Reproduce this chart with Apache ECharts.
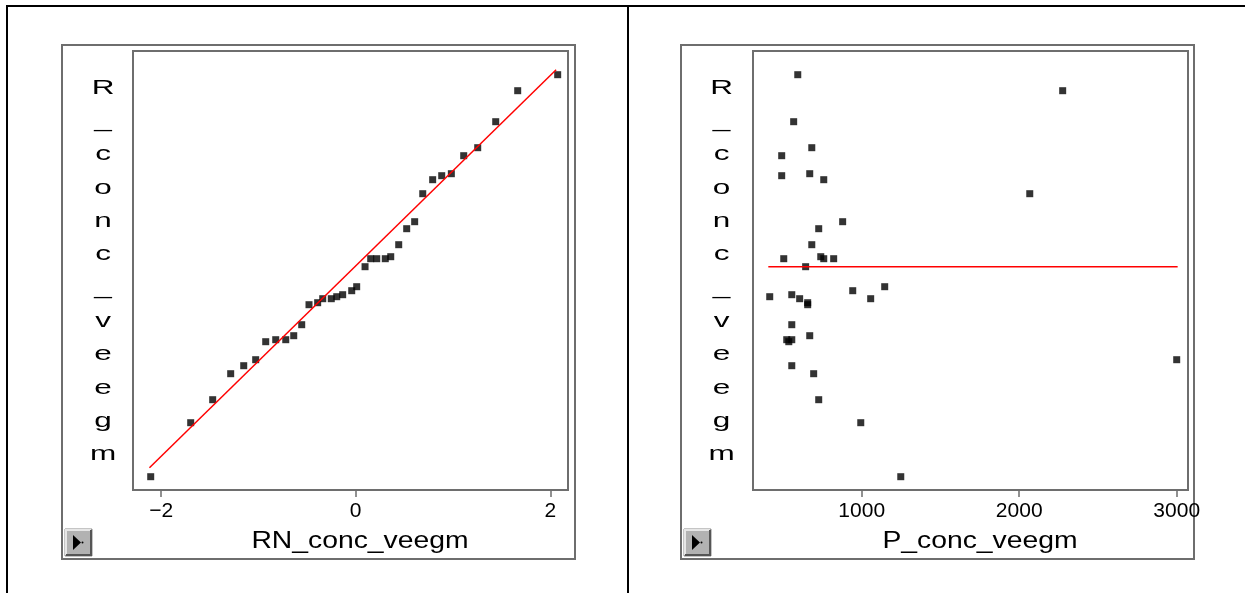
<!DOCTYPE html>
<html>
<head>
<meta charset="utf-8">
<script src="https://cdn.jsdelivr.net/npm/echarts@6/dist/echarts.min.js"></script>
<style>
html,body{margin:0;padding:0;background:#fff;}
#c{width:1245px;height:593px;}
</style>
</head>
<body>
<div id="c"></div>
<script>
// ---- data ----
// normal quantiles (x of left panel), in the same order as rConc
const qqX = [2.076, 1.665, 1.439, 1.254, 1.110, 0.983, 0.884, 0.791, 0.689, 0.606, 0.524, 0.442,
  0.360, 0.304, 0.216, 0.154, 0.096, 0.010, -0.041, -0.134, -0.195, -0.251, -0.339, -0.391,
  -0.480, -0.555, -0.637, -0.719, -0.822, -0.925, -1.028, -1.151, -1.285, -1.470, -1.696, -2.107];
// R_conc_veegm values (sorted, descending)
const rConc = [19.2, 17.6, 14.5, 11.9, 11.1, 9.3, 9.1, 8.7, 7.3, 4.5, 3.8, 2.2,
  1.0, 0.8, 0.8, 0.8, 0.0, -2.0, -2.4, -2.8, -3.0, -3.2, -3.2, -3.6,
  -3.8, -5.8, -6.9, -7.3, -7.3, -7.5, -9.3, -9.9, -10.7, -13.3, -15.6, -21.0];
// P_conc_veegm values, paired with rConc
const pConc = [594, 2276, 568, 683, 492, 670, 492, 759, 2067, 879, 727, 683,
  740, 505, 759, 822, 644, 1146, 943, 556, 416, 606, 1057, 657,
  657, 556, 670, 524, 556, 537, 3000, 556, 695, 727, 994, 1248];
// fitted lines
const qqLineX = [-2.12, 2.06];
const qqLineY = [-20.1, 19.7];
const meanLineX = [407, 3006];
const meanLineY = [0, 0];
// tick labels
const leftTicks = [-2, 0, 2];
const rightTicks = [1000, 2000, 3000];
// texts
const yLabel = 'R_conc_veegm';
const leftXLabel = 'RN_conc_veegm';
const rightXLabel = 'P_conc_veegm';

// ---- chart ----
const chart = echarts.init(document.getElementById('c'), null, {renderer: 'canvas'});
const FONT = '"Liberation Sans", Arial, sans-serif';
const borderCol = '#6e6e6e';

function xAxisCfg(idx, min, max, ticks) {
  return {
    gridIndex: idx, type: 'value', min: min, max: max, position: 'bottom',
    axisLine: {show: false, onZero: false},
    splitLine: {show: false},
    axisTick: {show: true, customValues: ticks, length: 7, lineStyle: {color: borderCol, width: 1.5}},
    axisLabel: {
      customValues: ticks, margin: 11, color: '#000', fontFamily: FONT, fontSize: 21,
      formatter: v => (v < 0 ? '\u2212' + Math.abs(v) : String(v))
    }
  };
}

function button(x, y) {
  return {
    type: 'group', x: x, y: y, children: [
      {type: 'rect', shape: {x: 0, y: 0, width: 27, height: 27}, style: {fill: '#b2b2b2', stroke: '#8a8a8a', lineWidth: 1}},
      {type: 'polyline', shape: {points: [[1, 26], [1, 1], [26, 1]]}, style: {stroke: '#e6e6e6', lineWidth: 2, fill: null}},
      {type: 'polyline', shape: {points: [[1, 26], [26, 26], [26, 1]]}, style: {stroke: '#555', lineWidth: 2, fill: null}},
      {type: 'polygon', shape: {points: [[8, 6], [8, 21], [16, 13.5]]}, style: {fill: '#000'}},
      {type: 'circle', shape: {cx: 17.5, cy: 13.5, r: 1}, style: {fill: '#000'}}
    ]
  };
}

function vLabel(x) {
  return {
    type: 'text', x: x, y: 271.2, scaleX: 1.5,
    style: {
      text: yLabel.split('').join('\n'), font: '21px ' + FONT, lineHeight: 33.3,
      textAlign: 'center', textVerticalAlign: 'middle', fill: '#000'
    }
  };
}

function xName(x, txt) {
  return {
    type: 'text', x: x, y: 541, scaleX: 1.18,
    style: {text: txt, font: '24px ' + FONT, textAlign: 'center', textVerticalAlign: 'middle', fill: '#000'}
  };
}

const option = {
  animation: false,
  backgroundColor: '#fff',
  grid: [
    {left: 133, top: 51, width: 435, height: 439, show: true, borderColor: borderCol, borderWidth: 2, backgroundColor: '#fff'},
    {left: 753, top: 51, width: 435, height: 439, show: true, borderColor: borderCol, borderWidth: 2, backgroundColor: '#fff'}
  ],
  xAxis: [
    xAxisCfg(0, -2.289, 2.182, leftTicks),
    xAxisCfg(1, 309.8, 3071.7, rightTicks)
  ],
  yAxis: [
    {gridIndex: 0, type: 'value', min: -22.33, max: 21.57, show: false},
    {gridIndex: 1, type: 'value', min: -22.33, max: 21.57, show: false}
  ],
  series: [
    {
      type: 'scatter', xAxisIndex: 0, yAxisIndex: 0, symbol: 'rect', symbolSize: 7,
      itemStyle: {color: '#000'}, z: 2,
      data: qqX.map((x, i) => [x, rConc[i]])
    },
    {
      type: 'line', xAxisIndex: 0, yAxisIndex: 0, symbol: 'none', z: 3,
      lineStyle: {color: '#ff0000', width: 1.5},
      data: qqLineX.map((x, i) => [x, qqLineY[i]])
    },
    {
      type: 'scatter', xAxisIndex: 1, yAxisIndex: 1, symbol: 'rect', symbolSize: 7,
      itemStyle: {color: '#000'}, z: 2,
      data: pConc.map((x, i) => [x, rConc[i]])
    },
    {
      type: 'line', xAxisIndex: 1, yAxisIndex: 1, symbol: 'none', z: 3,
      lineStyle: {color: '#ff0000', width: 1.5},
      data: meanLineX.map((x, i) => [x, meanLineY[i]])
    }
  ],
  graphic: [
    // outer frame
    {type: 'line', shape: {x1: 6, y1: 6, x2: 1245, y2: 6}, style: {stroke: '#000', lineWidth: 2}},
    {type: 'line', shape: {x1: 7, y1: 5, x2: 7, y2: 593}, style: {stroke: '#000', lineWidth: 2}},
    {type: 'line', shape: {x1: 628, y1: 5, x2: 628, y2: 593}, style: {stroke: '#000', lineWidth: 2}},
    // panel boxes
    {type: 'rect', shape: {x: 62, y: 45, width: 513, height: 514}, style: {fill: null, stroke: borderCol, lineWidth: 2}},
    {type: 'rect', shape: {x: 681, y: 45, width: 513, height: 514}, style: {fill: null, stroke: borderCol, lineWidth: 2}},
    vLabel(103), vLabel(721.5),
    xName(360, leftXLabel), xName(980, rightXLabel),
    button(65, 529), button(684, 529)
  ]
};
chart.setOption(option);
</script>
</body>
</html>
